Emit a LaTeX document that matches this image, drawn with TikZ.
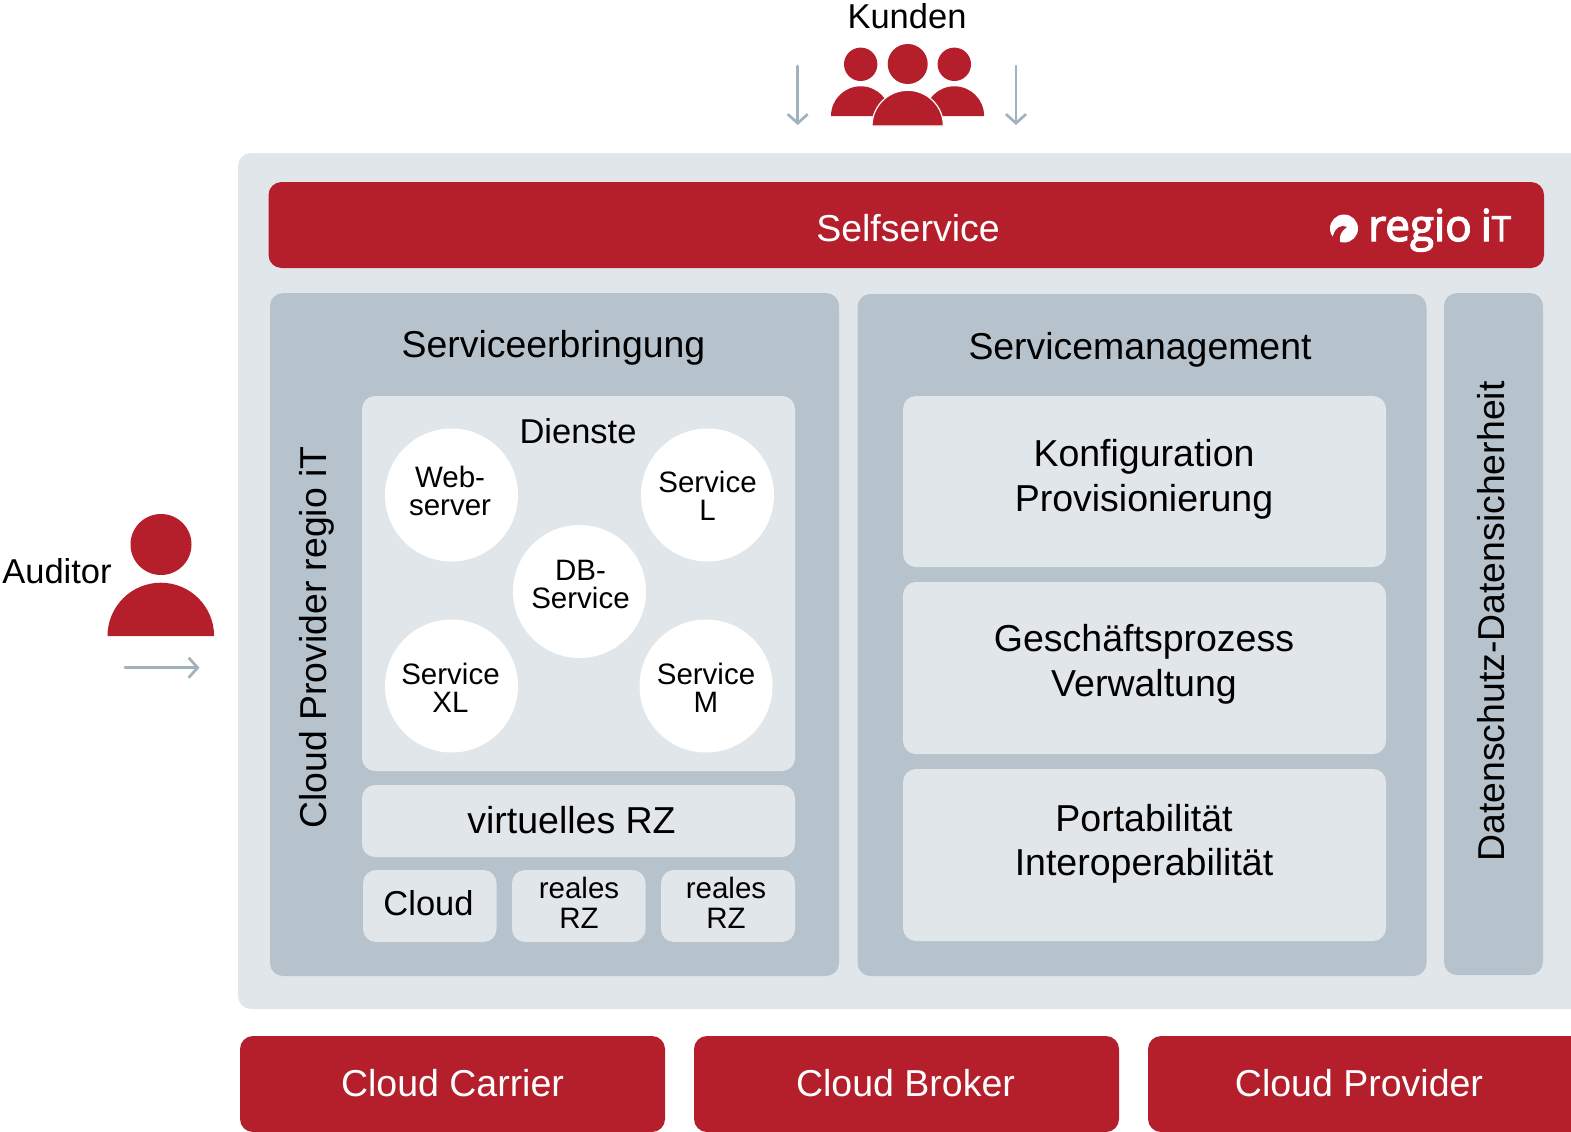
\documentclass[tikz,border=0pt]{standalone}
\usepackage{fontspec}
\setmainfont{Liberation Sans}
\newfontfamily\logofont[FakeBold=3]{Open Sans}
\usetikzlibrary{arrows.meta}
\definecolor{rit}{HTML}{B41F2B}
\definecolor{panelg}{HTML}{B6C3CC}
\definecolor{lightg}{HTML}{E1E6EA}
\definecolor{arrowg}{HTML}{9FB2BE}
\newcommand\fs[1]{\fontsize{#1}{#1}\selectfont}
\newcommand\panel[7]{%
  \pgfmathsetmacro\pw{#4-#2}\pgfmathsetmacro\ph{#5-#3}%
  \node[#6,minimum width=\pw pt,minimum height=\ph pt] (#1) at ({(#2+#4)/2},{(#3+#5)/2}) {#7};}
\tikzset{
  base/.style={inner sep=0pt,outer sep=0pt,rounded corners=13pt,align=center},
  outerbox/.style={base,fill=lightg},
  redbox/.style={base,fill=rit},
  greybox/.style={base,fill=panelg},
  palebox/.style={base,fill=lightg},
  onred/.style={inner sep=0pt,text=white,font=\fs{37.5}},
  smalltxt/.style={inner sep=0pt,align=center,font=\fontsize{29.5}{30}\selectfont},
  bigtxt/.style={inner sep=0pt,align=center,font=\fontsize{37.5}{44.5}\selectfont},
  label/.style={inner sep=0pt,align=center,font=\fs{37.4}},
  mid/.style={inner sep=0pt,font=\fs{34.5}},
  circ/.style={circle,fill=white,inner sep=0pt,minimum size=133pt},
  circtxt/.style={inner sep=0pt,align=center,font=\fontsize{29.5}{28}\selectfont},
  flow/.style={draw=arrowg,line width=2.7pt,line cap=round,-{Straight Barb[length=9pt,width=20pt,line width=2.7pt]}},
  figure/.style={fill=rit,draw=none}
}
\begin{document}
\begin{tikzpicture}[x=1pt,y=-1pt]
\useasboundingbox (0,0) rectangle (1571,1132);
\clip (0,0) rectangle (1571,1132);
% main panels
\panel{outer}{238}{153}{1590}{1009}{outerbox}{}
\panel{self}{268.5}{182}{1544}{268}{redbox}{}
\node[onred] (tself) at (908,228.5) {Selfservice};
\panel{erbr}{270}{293}{839}{976}{greybox}{}
\panel{mgmt}{857.5}{294}{1426.5}{976}{greybox}{}
\panel{dsds}{1444}{293}{1543}{975}{greybox}{}
% titles
\node[label] (terbr) at (553.5,347.5) {Serviceerbringung};
\node[label] (tmgmt) at (1140,349.5) {Servicemanagement};
\node[label,rotate=90] (tcp) at (317,637.5) {Cloud Provider regio iT};
\node[label,rotate=90] (tds) at (1491,621.5) {Datenschutz-Datensicherheit};
% services
\panel{dienste}{362}{396}{795}{771}{palebox}{}
\node[mid] (tdienste) at (578,431) {Dienste};
\node[circ] (web) at (451.5,495) {};
\node[circ] (sl) at (707.5,495) {};
\node[circ] (db) at (579.5,591.5) {};
\node[circ] (sxl) at (451.5,686) {};
\node[circ] (sm) at (706,686) {};
\node[circtxt] (tweb) at (450,490.5) {Web-\\server};
\node[circtxt] (tsl) at (707.5,495.5) {Service\\L};
\node[circtxt] (tdb) at (580.5,584) {DB-\\Service};
\node[circtxt] (tsxl) at (450.5,688) {Service\\XL};
\node[circtxt] (tsm) at (706,688) {Service\\M};
\panel{vrz}{362}{785}{795}{857}{palebox}{}
\node[label,font=\fs{37.5}] (tvrz) at (571.5,820.5) {virtuelles RZ};
\panel{cloud}{363}{870}{496.5}{942}{palebox}{}
\node[mid] (tcloud) at (428.5,903.5) {Cloud};
\panel{rz1}{512}{870}{645.5}{942}{palebox}{}
\node[smalltxt] (trz1) at (579,903) {reales\\RZ};
\panel{rz2}{661}{870}{795}{942}{palebox}{}
\node[smalltxt] (trz2) at (726,903) {reales\\RZ};
% management
\panel{konf}{903}{396}{1386}{567}{palebox}{}
\node[bigtxt] (tkonf) at (1144,479.5) {Konfiguration\\Provisionierung};
\panel{gesch}{903}{582}{1386}{754}{palebox}{}
\node[bigtxt] (tgesch) at (1144,664.5) {Geschäftsprozess\\Verwaltung};
\panel{port}{903}{769}{1386}{941}{palebox}{}
\node[bigtxt] (tport) at (1144,844) {Portabilität\\Interoperabilität};
% bottom
\panel{carrier}{240}{1036}{665}{1132}{redbox}{}
\panel{broker}{694}{1036}{1119}{1132}{redbox}{}
\panel{provider}{1148}{1036}{1590}{1132}{redbox}{}
\node[onred] (tcarrier) at (452.5,1083) {Cloud Carrier};
\node[onred] (tbroker) at (905.5,1083) {Cloud Broker};
\node[onred] (tprov) at (1359,1083) {Cloud Provider};
% logo
\fill[white] (1344,228.5) circle (14);
\fill[rit] (1347,227) .. controls (1341,224) and (1335,228) .. (1333,236) -- (1331,245) -- (1339,245) -- (1340,241) .. controls (1339,236) and (1341,231) .. (1347,227) -- cycle;
\node[text=white,inner sep=0pt,anchor=base west] (logo) at (1368,241) {\logofont\fs{44}regio\hspace{9pt}i\fs{34.5}T};
% customers
\node[mid] (kunden) at (907,16) {Kunden};
\fill[figure] (860.7,64.3) circle (16.7);
\fill[figure] (954.3,64.3) circle (16.7);
\fill[figure] (907.7,64) circle (20);
\fill[figure] (831,116) arc[start angle=180,end angle=360,radius=29.7] -- cycle;
\fill[figure] (924.7,116) arc[start angle=180,end angle=360,radius=29.7] -- cycle;
\fill[figure,draw=white,line width=1.2pt] (872,126) arc[start angle=180,end angle=360,radius=35.7] -- cycle;
\coordinate (k1a) at (797.7,66); \coordinate (k1b) at (797.7,125);
\coordinate (k2a) at (1016,66); \coordinate (k2b) at (1016,125);
\draw[flow] (k1a) -- (k1b);
\draw[flow] (k2a) -- (k2b);
% auditor
\node[mid] (auditor) at (57,571) {Auditor};
\fill[figure] (161,544.5) circle (30.5);
\fill[figure] (107.5,636) arc[start angle=180,end angle=360,radius=53.3] -- cycle;
\coordinate (a1) at (125,667.7); \coordinate (a2) at (199.5,667.7);
\draw[flow] (a1) -- (a2);
\end{tikzpicture}
\end{document}
